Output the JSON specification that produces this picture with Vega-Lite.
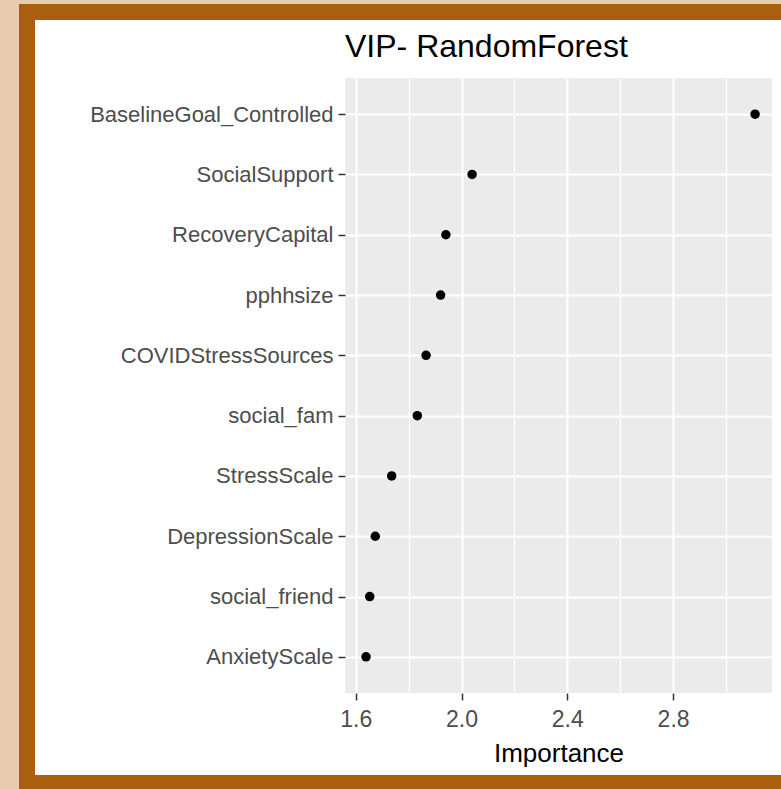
{
  "$schema": "https://vega.github.io/schema/vega-lite/v6.json",
  "background": "white",
  "padding": 0,
  "columns": 5,
  "spacing": 0,
  "bounds": "flush",
  "align": "each",
  "config": {"view": {"stroke": null}, "font": "Liberation Sans"},
  "datasets": {
    "none": [],
    "vip": [
      {"variable": "BaselineGoal_Controlled", "importance": 3.110},
      {"variable": "SocialSupport", "importance": 2.040},
      {"variable": "RecoveryCapital", "importance": 1.941},
      {"variable": "pphhsize", "importance": 1.921},
      {"variable": "COVIDStressSources", "importance": 1.866},
      {"variable": "social_fam", "importance": 1.833},
      {"variable": "StressScale", "importance": 1.736},
      {"variable": "DepressionScale", "importance": 1.674},
      {"variable": "social_friend", "importance": 1.653},
      {"variable": "AnxietyScale", "importance": 1.639}
    ]
  },
  "concat": [
    {"width": 19, "height": 4, "view": {"fill": "#e9cbaf"}, "data": {"name": "none"}, "mark": "point"},
    {"width": 16, "height": 4, "view": {"fill": "#e9cbaf"}, "data": {"name": "none"}, "mark": "point"},
    {"width": 310, "height": 4, "view": {"fill": "#e9cbaf"}, "data": {"name": "none"}, "mark": "point"},
    {"width": 427, "height": 4, "view": {"fill": "#e9cbaf"}, "data": {"name": "none"}, "mark": "point"},
    {"width": 9, "height": 4, "view": {"fill": "#e9cbaf"}, "data": {"name": "none"}, "mark": "point"},

    {"width": 19, "height": 16, "view": {"fill": "#e9cbaf"}, "data": {"name": "none"}, "mark": "point"},
    {"width": 16, "height": 16, "view": {"fill": "#aa5f0e"}, "data": {"name": "none"}, "mark": "point"},
    {"width": 310, "height": 16, "view": {"fill": "#aa5f0e"}, "data": {"name": "none"}, "mark": "point"},
    {"width": 427, "height": 16, "view": {"fill": "#aa5f0e"}, "data": {"name": "none"}, "mark": "point"},
    {"width": 9, "height": 16, "view": {"fill": "#aa5f0e"}, "data": {"name": "none"}, "mark": "point"},

    {"width": 19, "height": 58, "view": {"fill": "#e9cbaf"}, "data": {"name": "none"}, "mark": "point"},
    {"width": 16, "height": 58, "view": {"fill": "#aa5f0e"}, "data": {"name": "none"}, "mark": "point"},
    {"width": 310, "height": 58, "data": {"name": "none"}, "mark": "point"},
    {"width": 427, "height": 58, "data": {"name": "none"}, "mark": "point"},
    {"width": 9, "height": 58, "data": {"name": "none"}, "mark": "point"},

    {"width": 19, "height": 615, "view": {"fill": "#e9cbaf"}, "data": {"name": "none"}, "mark": "point"},
    {"width": 16, "height": 615, "view": {"fill": "#aa5f0e"}, "data": {"name": "none"}, "mark": "point"},
    {"width": 310, "height": 615, "data": {"name": "none"}, "mark": "point"},
    {
      "width": 427,
      "height": 615,
      "view": {"fill": "#ebebeb"},
      "data": {"name": "vip"},
      "title": {"text": "VIP- RandomForest", "anchor": "start", "frame": "group", "fontSize": 32, "fontWeight": "normal", "color": "black", "font": "Liberation Sans", "offset": 14},
      "encoding": {
        "y": {
          "field": "variable", "type": "nominal",
          "sort": {"field": "importance", "order": "descending"},
          "scale": {"type": "point", "padding": 0.6},
          "axis": {"title": null, "labelFontSize": 22, "labelLimit": 0, "labelColor": "#4d4d4d", "tickColor": "#333333", "tickSize": 7, "tickWidth": 1.5, "labelPadding": 5, "domain": false, "grid": true, "gridColor": "white", "gridWidth": 2}
        },
        "x": {
          "field": "importance", "type": "quantitative",
          "scale": {"domain": [1.5595, 3.174], "nice": false, "zero": false}
        }
      },
      "layer": [
        {
          "mark": {"type": "point", "opacity": 0},
          "encoding": {
            "x": {"field": "importance", "type": "quantitative", "axis": {"orient": "top", "values": [1.8, 2.2, 2.6, 3.0], "labels": false, "ticks": false, "domain": false, "title": null, "grid": true, "gridColor": "white", "gridWidth": 1.3}}
          }
        },
        {
          "mark": {"type": "point", "filled": true, "color": "black", "size": 90, "opacity": 1},
          "encoding": {
            "x": {"field": "importance", "type": "quantitative", "axis": {"orient": "bottom", "values": [1.6, 2.0, 2.4, 2.8], "format": ".1f", "title": "Importance", "titleFontSize": 26, "titleFontWeight": "normal", "titleColor": "black", "titlePadding": 9, "labelFontSize": 23, "labelColor": "#4d4d4d", "labelFlush": false, "tickColor": "#333333", "tickSize": 7, "tickWidth": 1.5, "labelPadding": 8, "domain": false, "grid": true, "gridColor": "white", "gridWidth": 2}}
          }
        }
      ],
      "resolve": {"axis": {"x": "independent"}}
    },
    {"width": 9, "height": 615, "data": {"name": "none"}, "mark": "point"},

    {"width": 19, "height": 82, "view": {"fill": "#e9cbaf"}, "data": {"name": "none"}, "mark": "point"},
    {"width": 16, "height": 82, "view": {"fill": "#aa5f0e"}, "data": {"name": "none"}, "mark": "point"},
    {"width": 310, "height": 82, "data": {"name": "none"}, "mark": "point"},
    {"width": 427, "height": 82, "data": {"name": "none"}, "mark": "point"},
    {"width": 9, "height": 82, "data": {"name": "none"}, "mark": "point"},

    {"width": 19, "height": 14, "view": {"fill": "#e9cbaf"}, "data": {"name": "none"}, "mark": "point"},
    {"width": 16, "height": 14, "view": {"fill": "#aa5f0e"}, "data": {"name": "none"}, "mark": "point"},
    {"width": 310, "height": 14, "view": {"fill": "#aa5f0e"}, "data": {"name": "none"}, "mark": "point"},
    {"width": 427, "height": 14, "view": {"fill": "#aa5f0e"}, "data": {"name": "none"}, "mark": "point"},
    {"width": 9, "height": 14, "view": {"fill": "#aa5f0e"}, "data": {"name": "none"}, "mark": "point"}
  ]
}
